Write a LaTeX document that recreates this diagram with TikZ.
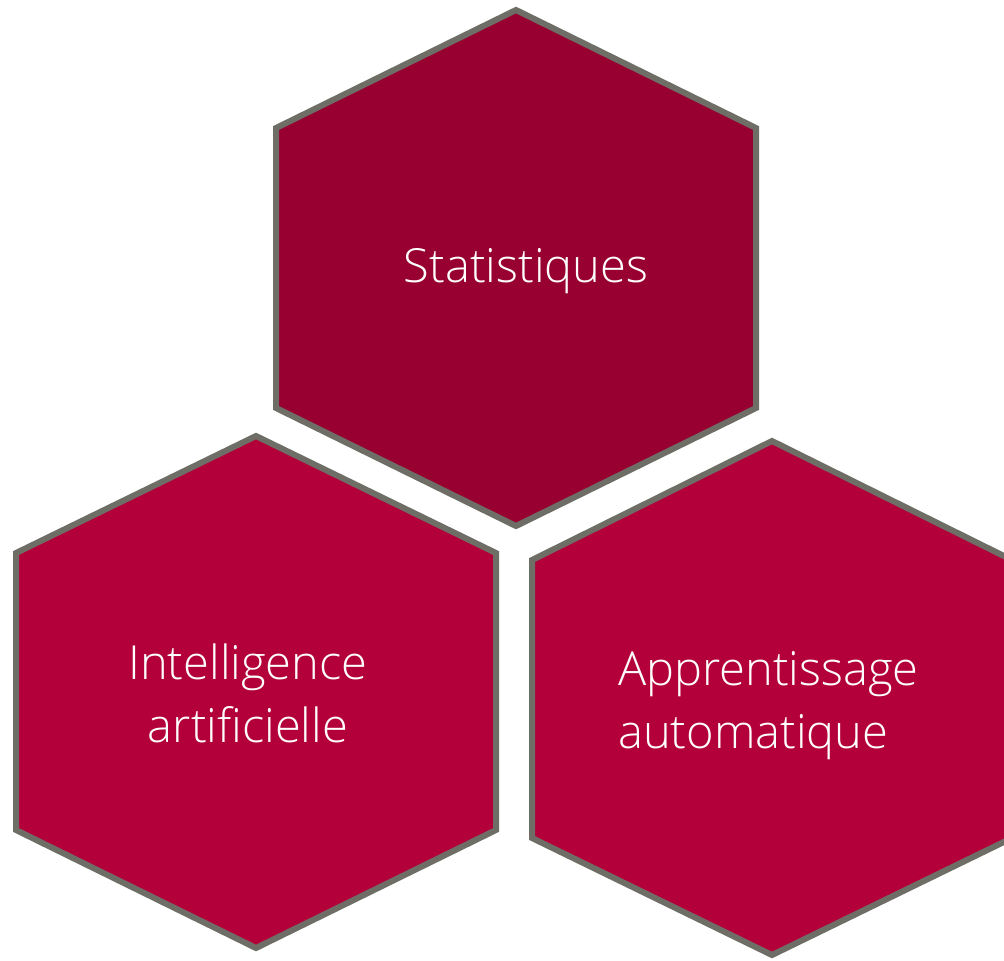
\documentclass[tikz,border=0pt]{standalone}
\usepackage{fontspec}
\setmainfont{Open Sans}[UprightFont={* Light}]
\definecolor{hexdark}{HTML}{970030}
\definecolor{hexred}{HTML}{B3003A}
\definecolor{hexline}{HTML}{6E6E66}
\begin{document}
\begin{tikzpicture}[x=1pt,y=-1pt,
  hexbox/.style={draw=hexline,line width=6pt,line join=miter},
  lbl/.style={text=white,inner sep=0pt,font=\fontsize{47}{63}\selectfont}]
\useasboundingbox (0,0) rectangle (1004,961);
\clip (0,0) rectangle (1004,961);
% top hexagon
\path[hexbox,fill=hexdark] (516,10) -- (756,128) -- (756,408) -- (516,526) -- (276,408) -- (276,128) -- cycle;
% bottom-left hexagon
\path[hexbox,fill=hexred] (256,436) -- (496,553) -- (496,830) -- (256,948) -- (16,830) -- (16,553) -- cycle;
% bottom-right hexagon
\path[hexbox,fill=hexred] (772,441) -- (1012,560) -- (1012,838) -- (772,955) -- (532,838) -- (532,560) -- cycle;
\node[lbl,anchor=base] (stat) at (526,282) {Statistiques};
\node[lbl,align=center] (ia) at (248,693) {Intelligence\\artificielle};
\node[lbl,align=left,anchor=west] (aa) at (618,706) {Apprentissage\\automatique};
\end{tikzpicture}
\end{document}
